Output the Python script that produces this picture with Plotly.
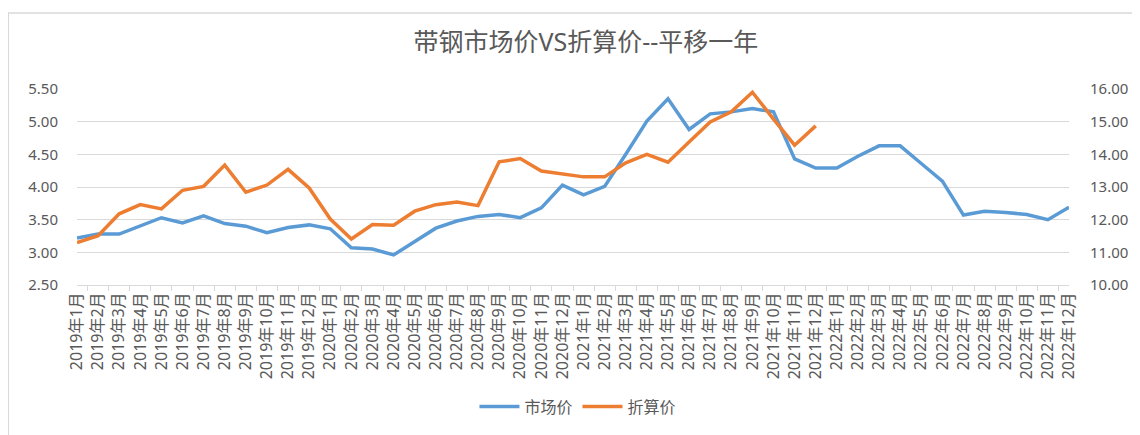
import plotly.graph_objects as go

# months 2019-01 .. 2022-12
months = [f"{y}年{m}月" for y in (2019, 2020, 2021, 2022) for m in range(1, 13)]

# 市场价 (left axis)
market_price = [
    3.22, 3.28, 3.28, 3.41, 3.53, 3.45, 3.56, 3.44, 3.40, 3.30, 3.38, 3.42,
    3.36, 3.07, 3.05, 2.96, 3.17, 3.37, 3.48, 3.55, 3.58, 3.53, 3.68, 4.03,
    3.88, 4.01, 4.50, 5.01, 5.35, 4.88, 5.12, 5.15, 5.20, 5.15, 4.43, 4.29,
    4.29, 4.47, 4.63, 4.63, 4.36, 4.09, 3.57, 3.63, 3.61, 3.58, 3.50, 3.69,
]

# 折算价 (right axis), only through 2021-12
converted_price = [
    11.30, 11.51, 12.18, 12.46, 12.33, 12.90, 13.02, 13.67, 12.84, 13.06, 13.54, 12.97,
    12.02, 11.41, 11.85, 11.83, 12.26, 12.46, 12.54, 12.43, 13.77, 13.87, 13.49, 13.40,
    13.31, 13.31, 13.74, 14.00, 13.76, 14.38, 14.99, 15.30, 15.90, 15.08, 14.28, 14.87,
] + [None] * 12

font_family = "'Noto Sans', 'Noto Sans CJK SC', sans-serif"
grey = '#595959'
grid = '#d9d9d9'

fig = go.Figure()
fig.add_trace(go.Scatter(
    x=months, y=market_price, name='市场价', mode='lines',
    line=dict(color='#5B9BD5', width=3.5),
))
fig.add_trace(go.Scatter(
    x=months, y=converted_price, name='折算价', mode='lines', yaxis='y2',
    line=dict(color='#ED7D31', width=3.5),
))

# page body adds an 8px offset, so the figure is 8px smaller each way
fig.update_layout(
    width=1132, height=427,
    margin=dict(l=69, r=67, t=81, b=150),
    paper_bgcolor='white', plot_bgcolor='white',
    font=dict(family=font_family, color=grey, size=15),
    title=dict(text='带钢市场价VS折算价--平移一年', x=0.513, xref='paper', xanchor='center',
               y=1 - 34 / 427, yref='container', yanchor='middle',
               font=dict(size=25, color=grey)),
    showlegend=True,
    legend=dict(orientation='h', x=0.505, xanchor='center', y=-0.62, yanchor='middle',
                font=dict(size=16, color=grey), itemwidth=40),
    xaxis=dict(
        type='category', tickangle=-90, showgrid=False,
        showline=True, linecolor=grid, linewidth=1,
        ticks='outside', tickson='boundaries', ticklen=5, tickcolor=grid,
        tickfont=dict(size=16, color=grey),
    ),
    yaxis=dict(
        range=[2.5, 5.5], dtick=0.5, tickformat='.2f',
        showgrid=True, gridcolor=grid, gridwidth=1, zeroline=False,
        ticklabelstandoff=18, tickfont=dict(size=15, color=grey),
    ),
    yaxis2=dict(
        range=[10, 16], dtick=1, tickformat='.2f', overlaying='y', side='right',
        showgrid=False, zeroline=False,
        ticklabelstandoff=20, tickfont=dict(size=15, color=grey),
    ),
    shapes=[dict(type='rect', xref='paper', yref='paper',
                 x0=-0.0693, x1=1.08, y0=-0.80, y1=1.388,
                 line=dict(color=grid, width=1.5), layer='below')],
)

fig.write_html("out.html")
